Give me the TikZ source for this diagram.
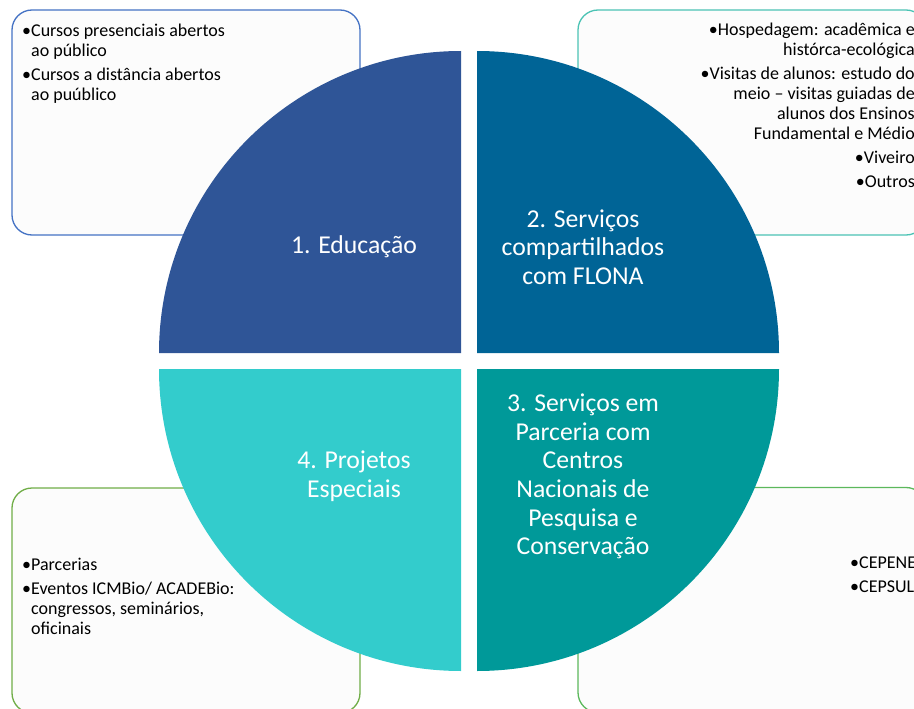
\documentclass[tikz,border=0pt]{standalone}
\usepackage{fontspec}
\setmainfont{Carlito}
\usepackage{tikz}
\definecolor{edublue}{HTML}{2F5597}
\definecolor{flonablue}{HTML}{006496}
\definecolor{projcyan}{HTML}{33CCCC}
\definecolor{centroteal}{HTML}{009999}
\definecolor{boxblue}{HTML}{4472C4}
\definecolor{boxteal}{HTML}{4BC3B4}
\definecolor{boxgreen}{HTML}{70AD47}
\definecolor{boxlime}{HTML}{5CB85C}
\definecolor{boxfill}{HTML}{FCFCFC}

\begin{document}
\begin{tikzpicture}[x=1pt,y=-1pt,infobox/.style={draw, fill=boxfill, line width=1.3pt, rounded corners=20pt, minimum width=348pt, minimum height=225pt, inner sep=0pt},boxtext/.style={inner sep=0pt, font=\fontsize{18}{20}\selectfont},slicetext/.style={inner sep=0pt, text=white, align=center, font=\fontsize{25.7}{28.7}\selectfont}]
  \useasboundingbox (0,0) rectangle (914,709);
  \clip (0,0) rectangle (914,709);
  \node[infobox, draw=boxblue] (edubox) at (186,122.5) {};
  \node[infobox, draw=boxteal] (flonabox) at (752,122.5) {};
  \node[infobox, draw=boxgreen] (projbox) at (186,600.5) {};
  \node[infobox, draw=boxlime] (centrobox) at (752,600) {};
  \fill[edublue] (461,353) -- ++(-302,0) arc[start angle=180, end angle=270, radius=302] -- cycle;
  \fill[flonablue] (477,353) -- ++(302,0) arc[start angle=0, end angle=-90, radius=302] -- cycle;
  \fill[projcyan] (461,369) -- ++(-302,0) arc[start angle=180, end angle=90, radius=302] -- cycle;
  \fill[centroteal] (477,369) -- ++(302,0) arc[start angle=0, end angle=90, radius=302] -- cycle;
  \node[slicetext] (edu) at (354,247) {1. Educação};
  \node[slicetext] (flona) at (583,247) {2. Serviços\\compartilhados\\com FLONA};
  \node[slicetext] (proj) at (354,476.5) {4. Projetos\\Especiais};
  \node[slicetext] (centro) at (583,476.5) {3. Serviços em\\Parceria com\\Centros\\Nacionais de\\Pesquisa e\\Conservação};
  \node[boxtext, align=left, anchor=north west] (edulist) at (22,24) {•Cursos presenciais abertos\\\hphantom{•}ao público\\[4pt]•Cursos a distância abertos\\\hphantom{•}ao puúblico};
  \node[boxtext, align=right, anchor=north east] (flonalist) at (915,23) {•Hospedagem: acadêmica e\\histórca-ecológica\\[4pt]•Visitas de alunos: estudo do\\meio – visitas guiadas de\\alunos dos Ensinos\\Fundamental e Médio\\[4pt]•Viveiro\\[4pt]•Outros};
  \node[boxtext, align=left, anchor=north west] (projlist) at (22,558) {•Parcerias\\[4pt]•Eventos ICMBio/ ACADEBio:\\\hphantom{•}congressos, seminários,\\\hphantom{•}oficinais};
  \node[boxtext, align=left, anchor=north west] (centrolist) at (850,557) {•CEPENE\\[4pt]•CEPSUL};
\end{tikzpicture}
\end{document}
